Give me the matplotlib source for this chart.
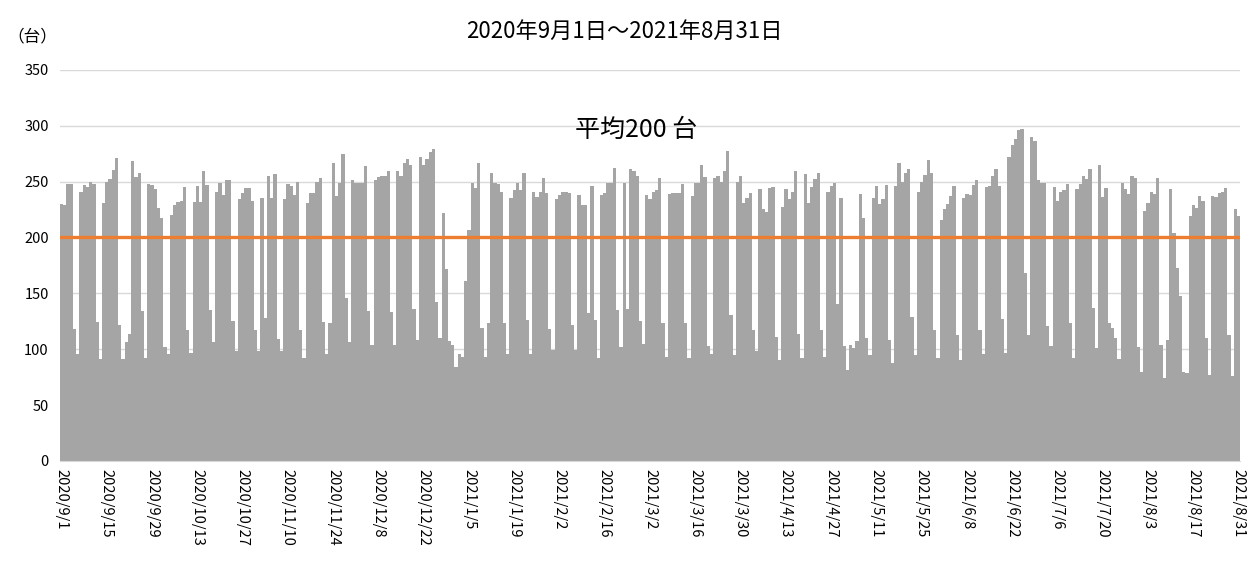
import numpy as np
import pandas as pd
import matplotlib
matplotlib.use("Agg")
import matplotlib.pyplot as plt

plt.rcParams["font.family"] = ["Noto Sans CJK JP", "DejaVu Sans"]

# daily counts, 2020/9/1 .. 2021/8/31
sep = [230, 229, 248, 248, 118, 96, 241, 247, 245, 250, 248, 124, 91, 231, 250,
       252, 260, 271, 122, 91, 106, 114, 268, 254, 258, 134, 92, 248, 247, 243]
oct_ = [226, 217, 102, 96, 220, 229, 232, 233, 245, 117, 97, 232, 246, 232, 259,
        247, 135, 106, 241, 249, 238, 251, 251, 125, 98, 234, 240, 244, 244, 233, 117]
nov = [98, 235, 128, 255, 235, 257, 109, 98, 234, 248, 246, 238, 250, 117, 92,
       231, 240, 240, 250, 253, 124, 96, 123, 267, 237, 249, 275, 146, 106, 251]
dec = [249, 249, 249, 264, 134, 104, 251, 254, 255, 255, 259, 133, 104, 259, 255,
       267, 270, 265, 136, 108, 272, 265, 270, 276, 279, 142, 110, 222, 172, 107, 104]
jan = [84, 96, 93, 161, 207, 249, 244, 267, 119, 93, 123, 258, 249, 248, 241,
       123, 96, 235, 242, 249, 242, 258, 126, 96, 241, 236, 241, 253, 240, 118, 99]
feb = [234, 238, 241, 241, 240, 122, 99, 238, 229, 229, 132, 246, 126, 92, 238,
       240, 249, 249, 262, 135, 102, 249, 136, 261, 259, 255, 125, 105]
mar = [238, 234, 241, 242, 253, 123, 93, 239, 240, 240, 240, 248, 123, 92, 237,
       249, 249, 265, 254, 103, 96, 253, 255, 250, 259, 277, 131, 95, 250, 255, 231]
apr = [235, 240, 117, 98, 243, 225, 223, 244, 245, 111, 90, 227, 243, 234, 241,
       259, 114, 92, 257, 231, 245, 252, 258, 117, 93, 241, 246, 249, 140, 235]
may = [103, 81, 104, 101, 107, 239, 217, 110, 95, 235, 246, 230, 234, 247, 108,
       88, 246, 267, 250, 258, 261, 129, 95, 241, 250, 256, 269, 258, 117, 92, 216]
jun = [225, 230, 237, 246, 113, 90, 235, 239, 238, 247, 251, 117, 96, 245, 246,
       255, 261, 246, 127, 97, 272, 283, 288, 296, 297, 168, 113, 290, 286, 251]
jul = [249, 249, 121, 103, 245, 233, 241, 242, 248, 123, 92, 243, 248, 255, 252,
       261, 137, 101, 265, 236, 244, 123, 119, 110, 91, 249, 243, 239, 255, 253, 102]
aug = [80, 224, 231, 241, 239, 253, 104, 74, 108, 243, 204, 173, 148, 80, 79,
       219, 229, 226, 237, 233, 110, 77, 237, 236, 240, 241, 244, 113, 76, 225, 219]

counts = sep + oct_ + nov + dec + jan + feb + mar + apr + may + jun + jul + aug
dates = pd.date_range("2020-09-01", "2021-08-31", freq="D")
average = 200

x = np.arange(len(counts))
tick_pos = x[::14]
tick_labels = [f"{d.year}/{d.month}/{d.day}" for d in dates[::14]]

fig = plt.figure(figsize=(12.49, 5.67), dpi=100)
ax = fig.add_axes([0.048, 0.187, 0.945, 0.69])

ax.bar(x, counts, width=1.0, color="#A5A5A5", linewidth=0, zorder=2)
ax.axhline(average, color="#ED7D31", lw=2.4, zorder=3)

ax.set_xlim(-0.5, len(counts) - 0.5)
ax.set_ylim(0, 350)
ax.set_yticks(range(0, 351, 50))
ax.grid(axis="y", color="#D9D9D9", lw=1, zorder=0)
ax.set_xticks(tick_pos)
ax.set_xticklabels(tick_labels, rotation=-90, ha="center", va="top", fontsize=10.5)
ax.tick_params(axis="x", length=0, pad=6)
ax.tick_params(axis="y", length=0, labelsize=10.5, pad=8)
for s in ["top", "right", "left"]:
    ax.spines[s].set_visible(False)
ax.spines["bottom"].set_color("#D9D9D9")

fig.text(0.5, 0.945, "2020年9月1日～2021年8月31日", ha="center", va="center", fontsize=16)
fig.text(0.006, 0.935, "（台）", ha="left", va="center", fontsize=12)
ax.text(0.488, 0.847, "平均200 台", transform=ax.transAxes, ha="center", va="center",
        fontsize=18, zorder=4)

fig.savefig("out.png", dpi=100)
